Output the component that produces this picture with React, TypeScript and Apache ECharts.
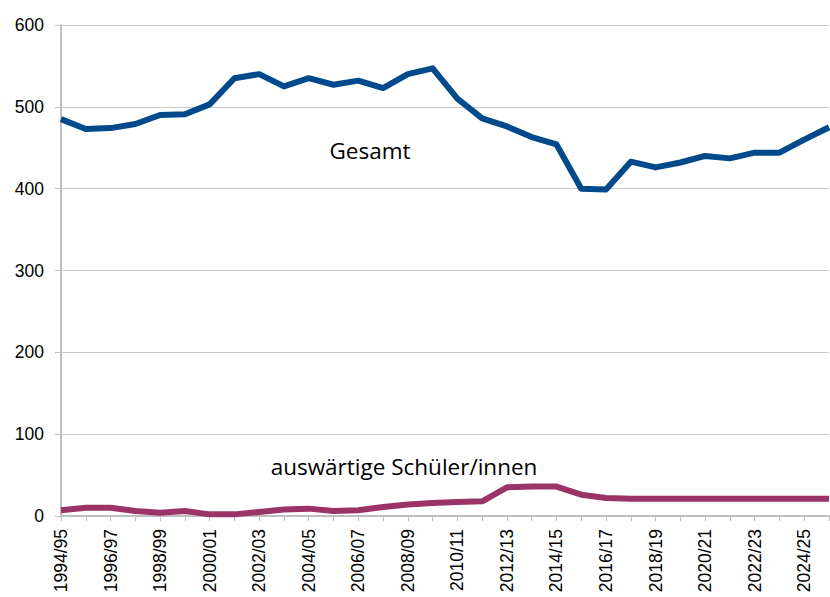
import React, { useEffect, useRef } from "react";
import * as echarts from "echarts";

const categories = [
  "1994/95", "1995/96", "1996/97", "1997/98", "1998/99", "1999/00", "2000/01", "2001/02",
  "2002/03", "2003/04", "2004/05", "2005/06", "2006/07", "2007/08", "2008/09", "2009/10",
  "2010/11", "2011/12", "2012/13", "2013/14", "2014/15", "2015/16", "2016/17", "2017/18",
  "2018/19", "2019/20", "2020/21", "2021/22", "2022/23", "2023/24", "2024/25", "2025/26",
];

const gesamt = [
  485, 473, 474, 479, 490, 491, 503, 535, 540, 525, 535, 527, 532, 523, 540, 547,
  510, 486, 476, 463, 454, 400, 399, 433, 426, 432, 440, 437, 444, 444, 460, 475,
];

const auswaertige = [
  7, 10, 10, 6, 4, 6, 2, 2, 5, 8, 9, 6, 7, 11, 14, 16,
  17, 18, 35, 36, 36, 26, 22, 21, 21, 21, 21, 21, 21, 21, 21, 21,
];

const yTicks = { min: 0, max: 600, interval: 100 };

const seriesLabels = ["Gesamt", "auswärtige Schüler/innen"];

export default function App() {
  const ref = useRef<HTMLDivElement>(null);

  useEffect(() => {
    document.body.style.margin = "0";
    const chart = echarts.init(ref.current!, null, { renderer: "svg" });
    const axisFont = "'Liberation Sans', Arial, sans-serif";
    const textFont = "'Open Sans', 'Noto Sans', sans-serif";
    chart.setOption({
      animation: false,
      backgroundColor: "#ffffff",
      grid: { left: 61, right: 1, top: 25, bottom: 81, containLabel: false },
      xAxis: {
        type: "category",
        data: categories,
        boundaryGap: false,
        axisLine: { lineStyle: { color: "#bfbfbf", width: 2 } },
        axisTick: { show: true, alignWithLabel: true, interval: 0, length: 5, lineStyle: { color: "#bfbfbf" } },
        axisLabel: {
          interval: 1,
          rotate: 90,
          margin: 13,
          fontSize: 17.5,
          fontFamily: axisFont,
          color: "#000000",
        },
        splitLine: { show: false },
      },
      yAxis: {
        type: "value",
        min: yTicks.min,
        max: yTicks.max,
        interval: yTicks.interval,
        axisLine: { show: true, lineStyle: { color: "#bfbfbf", width: 2 } },
        axisTick: { show: true, length: 6, lineStyle: { color: "#bfbfbf" } },
        axisLabel: { margin: 17, fontSize: 17.5, fontFamily: axisFont, color: "#000000" },
        splitLine: { show: true, lineStyle: { color: "#c8c8c8", width: 1 } },
      },
      series: [
        {
          name: seriesLabels[0],
          type: "line",
          data: gesamt,
          showSymbol: false,
          symbol: "none",
          lineStyle: { color: "#004a8c", width: 6, join: "round" },
          z: 3,
        },
        {
          name: seriesLabels[1],
          type: "line",
          data: auswaertige,
          showSymbol: false,
          symbol: "none",
          lineStyle: { color: "#9b3366", width: 6, join: "round" },
          z: 3,
        },
      ],
      graphic: [
        {
          type: "text",
          x: 370,
          y: 150,
          style: {
            text: seriesLabels[0],
            fontSize: 22.5,
            fontFamily: textFont,
            fill: "#000000",
            textAlign: "center",
            textVerticalAlign: "middle",
          },
        },
        {
          type: "text",
          x: 404,
          y: 466,
          style: {
            text: seriesLabels[1],
            fontSize: 22.5,
            fontFamily: textFont,
            fill: "#000000",
            textAlign: "center",
            textVerticalAlign: "middle",
          },
        },
      ],
    });
    return () => chart.dispose();
  }, []);

  return <div ref={ref} style={{ width: 830, height: 597 }} />;
}
